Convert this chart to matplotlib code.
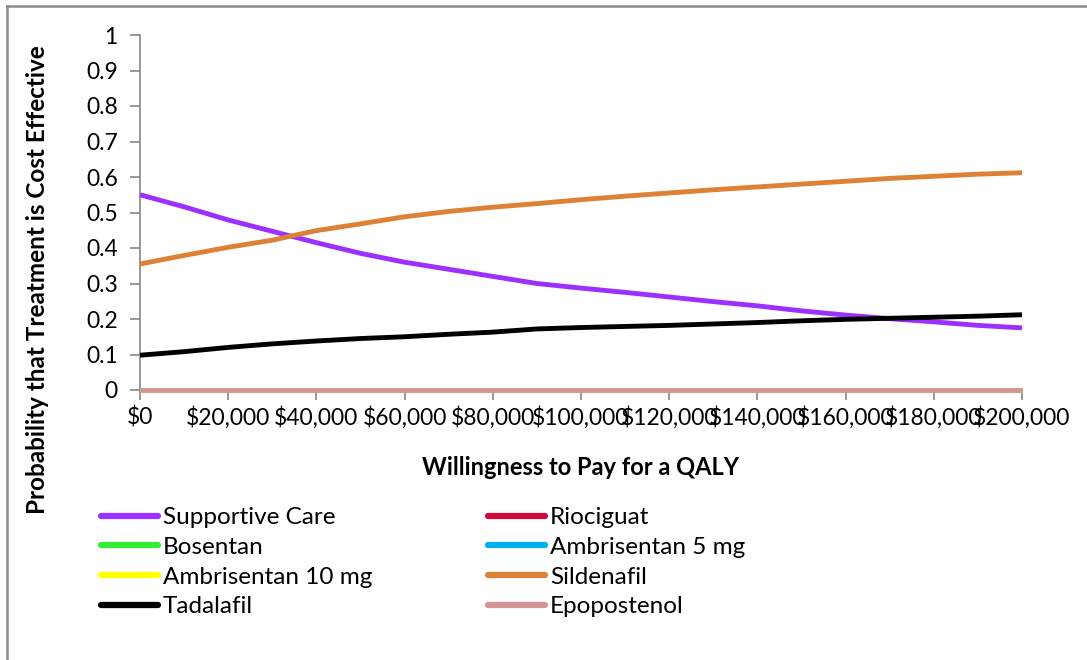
import matplotlib
matplotlib.use("Agg")
import matplotlib.pyplot as plt
from matplotlib.lines import Line2D
from matplotlib.ticker import FuncFormatter

plt.rcParams['font.family'] = ['Lato', 'DejaVu Sans']

wtp = [0, 10000, 20000, 30000, 40000, 50000, 60000, 70000, 80000, 90000, 100000,
       110000, 120000, 130000, 140000, 150000, 160000, 170000, 180000, 190000, 200000]

supportive_care = [0.550, 0.516, 0.479, 0.447, 0.415, 0.385, 0.360, 0.340, 0.320, 0.300, 0.287,
                   0.275, 0.262, 0.249, 0.237, 0.223, 0.211, 0.201, 0.192, 0.182, 0.175]
riociguat = [0.0] * 21
bosentan = [0.0] * 21
ambrisentan_5 = [0.0] * 21
ambrisentan_10 = [0.0] * 21
sildenafil = [0.355, 0.379, 0.402, 0.422, 0.449, 0.468, 0.488, 0.503, 0.515, 0.525, 0.536,
              0.546, 0.555, 0.564, 0.572, 0.580, 0.588, 0.596, 0.602, 0.608, 0.612]
tadalafil = [0.098, 0.108, 0.120, 0.130, 0.138, 0.145, 0.150, 0.157, 0.163, 0.172, 0.176,
             0.179, 0.182, 0.186, 0.190, 0.195, 0.199, 0.202, 0.205, 0.208, 0.212]
epoprostenol = [0.0] * 21

names = ["Supportive Care", "Riociguat", "Bosentan", "Ambrisentan 5 mg",
         "Ambrisentan 10 mg", "Sildenafil", "Tadalafil", "Epopostenol"]
series = [supportive_care, riociguat, bosentan, ambrisentan_5,
          ambrisentan_10, sildenafil, tadalafil, epoprostenol]
colors = ["#9B30FF", "#CC0A3D", "#33EE33", "#00B0F0",
          "#FFFF00", "#DD8136", "#000000", "#D49494"]

fig = plt.figure(figsize=(10.87, 6.6), dpi=100)
ax = fig.add_axes([140/1087, 1-390/660, (1022-140)/1087, (390-35)/660])

handles = {}
for name, vals, c in zip(names, series, colors):
    ln, = ax.plot(wtp, vals, color=c, lw=3.5, solid_capstyle='butt', clip_on=False, zorder=3)
    handles[name] = ln

ax.set_xlim(0, 200000)
ax.set_ylim(0, 1)
ax.set_xticks(range(0, 200001, 20000))
ax.set_yticks([i/10 for i in range(11)])
ax.xaxis.set_major_formatter(FuncFormatter(lambda v, p: "${:,.0f}".format(v)))
ax.yaxis.set_major_formatter(FuncFormatter(lambda v, p: "0" if v == 0 else ("1" if v == 1 else "{:.1f}".format(v))))

for s in ['top', 'right']:
    ax.spines[s].set_visible(False)
for s in ['left', 'bottom']:
    ax.spines[s].set_color('#868686')
    ax.spines[s].set_linewidth(1.2)
ax.tick_params(axis='both', colors='#868686', labelcolor='black', labelsize=16.5,
               length=7, width=1.2, direction='out')
ax.tick_params(axis='x', pad=5)
ax.tick_params(axis='y', pad=9)

ax.set_xlabel("Willingness to Pay for a QALY", fontsize=17, fontweight='bold', labelpad=19)
ax.set_ylabel("Probability that Treatment is Cost Effective", fontsize=17.5, fontweight='bold')
ax.yaxis.set_label_coords(-0.103, 0.31)

order = ["Supportive Care", "Bosentan", "Ambrisentan 10 mg", "Tadalafil",
         "Riociguat", "Ambrisentan 5 mg", "Sildenafil", "Epopostenol"]
leg_handles = [Line2D([0], [0], color=handles[n].get_color(), lw=4.5, solid_capstyle='round') for n in order]
leg = fig.legend(leg_handles, order, ncol=2, loc='upper left',
                 bbox_to_anchor=(101/1087, 1-507/660), frameon=False, fontsize=17.5,
                 handlelength=2.35, handletextpad=0.2, columnspacing=4.75,
                 labelspacing=0.36, borderaxespad=0, borderpad=0)

fig.add_artist(Line2D([7/1087, 1.0], [1-5.5/660, 1-5.5/660], color='#8C8C8C', lw=1.8, transform=fig.transFigure))
fig.add_artist(Line2D([7/1087, 7/1087], [0, 1-5.5/660], color='#8C8C8C', lw=1.8, transform=fig.transFigure))

fig.savefig("out.png", dpi=100)
